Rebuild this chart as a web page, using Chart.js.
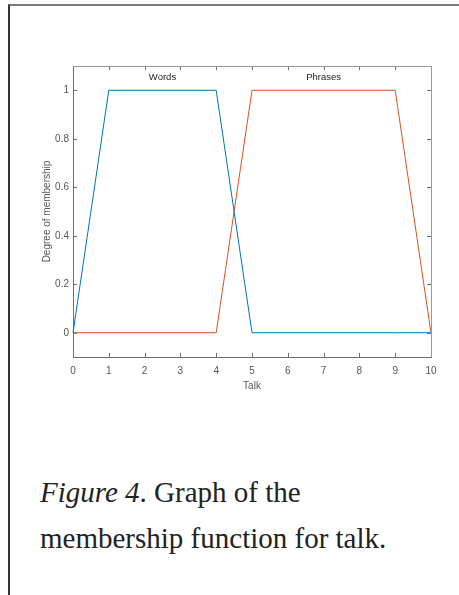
<!DOCTYPE html>
<html>
<head>
<meta charset="utf-8">
<script src="https://cdn.jsdelivr.net/npm/chart.js@4/dist/chart.umd.min.js"></script>
<style>
    body { margin: 0; background: #fff; width: 459px; height: 595px; overflow: hidden; position: relative; }
    #frame { position: absolute; left: 8px; top: 4px; width: 470px; height: 620px;
             border-top: 2px solid #7a7a7a; border-left: 2px solid #333; }
    #chartWrap { position: absolute; left: 0; top: 0; width: 459px; height: 420px; }
    #caption { position: absolute; left: 40px; top: 469px; font-family: "Liberation Serif", "Times New Roman", serif;
               font-size: 29px; line-height: 46px; color: #222; }
</style>
</head>
<body>
<div id="frame"></div>
<div id="chartWrap"><canvas id="mfChart" width="459" height="420"></canvas></div>
<div id="caption"><i>Figure 4</i>. Graph of the<br>membership function for talk.</div>

<script>
// Membership functions for "talk"
const talkX = [0, 1, 4, 5, 9, 10];
const wordsY = [0, 1, 1, 0, 0, 0];
const phrasesX = [0, 4, 5, 9, 10];
const phrasesY = [0, 0, 1, 1, 0];
const mfNames = ['Words', 'Phrases'];
const mfCenters = [2.5, 7];
const xTicks = [0, 1, 2, 3, 4, 5, 6, 7, 8, 9, 10];
const yTicks = [0, 0.2, 0.4, 0.6, 0.8, 1];

const tickFont = { family: 'Liberation Sans, Arial, sans-serif', size: 10 };

// MATLAB style box with inward ticks, plus MF name labels
const boxPlugin = {
    id: 'boxPlugin',
    afterDatasetsDraw(chart) {
        const ctx = chart.ctx;
        const area = chart.chartArea;
        const xs = chart.scales.x;
        const ys = chart.scales.y;
        const len = 4;
        ctx.save();
        ctx.strokeStyle = '#6e6e6e';
        ctx.lineWidth = 1;
        ctx.beginPath();
        xTicks.forEach(v => {
            const px = Math.round(xs.getPixelForValue(v)) + 0.5;
            ctx.moveTo(px, area.bottom); ctx.lineTo(px, area.bottom - len);
            ctx.moveTo(px, area.top); ctx.lineTo(px, area.top + len);
        });
        yTicks.forEach(v => {
            const py = Math.round(ys.getPixelForValue(v)) + 0.5;
            ctx.moveTo(area.left, py); ctx.lineTo(area.left + len, py);
            ctx.moveTo(area.right, py); ctx.lineTo(area.right - len, py);
        });
        ctx.stroke();
        ctx.strokeStyle = '#9a9a9a';
        ctx.beginPath();
        ctx.moveTo(area.left, area.top + 0.5); ctx.lineTo(area.right + 0.5, area.top + 0.5);
        ctx.lineTo(area.right + 0.5, area.bottom);
        ctx.stroke();

        ctx.fillStyle = '#222';
        ctx.font = '9.5px Liberation Sans, Arial, sans-serif';
        ctx.textAlign = 'center';
        ctx.textBaseline = 'middle';
        mfNames.forEach((name, i) => {
            ctx.fillText(name, xs.getPixelForValue(mfCenters[i]), ys.getPixelForValue(1.053));
        });
        ctx.restore();
    }
};

const ctx = document.getElementById('mfChart').getContext('2d');
window.mfChart = new Chart(ctx, {
    type: 'line',
    data: {
        datasets: [{
            label: mfNames[0],
            data: talkX.map((x, i) => ({ x: x, y: wordsY[i] })),
            borderColor: '#0072BD',
            borderWidth: 1,
            pointRadius: 0,
            tension: 0
        }, {
            label: mfNames[1],
            data: phrasesX.map((x, i) => ({ x: x, y: phrasesY[i] })),
            borderColor: '#D95319',
            borderWidth: 1,
            pointRadius: 0,
            tension: 0
        }]
    },
    options: {
        responsive: false,
        animation: false,
        clip: false,
        layout: {
            padding: { left: 0, top: 66, right: 28, bottom: 0 }
        },
        plugins: {
            legend: { display: false },
            tooltip: { enabled: false }
        },
        scales: {
            x: {
                type: 'linear',
                min: 0,
                max: 10,
                afterBuildTicks: scale => { scale.ticks = xTicks.map(v => ({ value: v })); },
                afterFit: scale => { scale.height = 63; },
                grid: { display: false, drawTicks: false },
                border: { display: true, color: '#6e6e6e', width: 1 },
                ticks: { font: tickFont, color: '#555', padding: 8, maxRotation: 0 },
                title: {
                    display: true,
                    text: 'Talk',
                    font: tickFont,
                    color: '#555',
                    padding: { top: 0, bottom: 28 }
                }
            },
            y: {
                type: 'linear',
                min: -0.1,
                max: 1.1,
                afterBuildTicks: scale => { scale.ticks = yTicks.map(v => ({ value: v })); },
                afterFit: scale => { scale.width = 73; },
                grid: { display: false, drawTicks: false },
                border: { display: true, color: '#6e6e6e', width: 1 },
                ticks: { font: tickFont, color: '#555', padding: 4, callback: v => String(v) },
                title: {
                    display: true,
                    text: 'Degree of membership',
                    font: tickFont,
                    color: '#555',
                    padding: { top: 41, bottom: 0 }
                }
            }
        }
    },
    plugins: [boxPlugin]
});
</script>
</body>
</html>
